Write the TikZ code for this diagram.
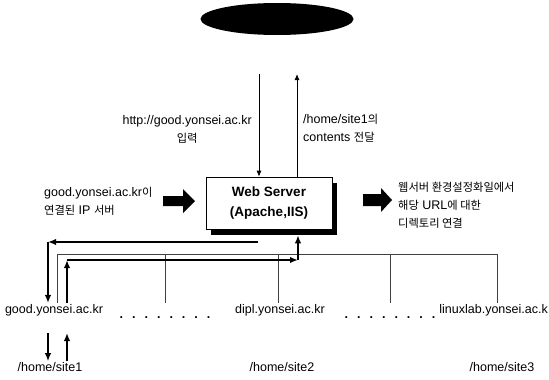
\documentclass[tikz,border=0pt]{standalone}
\usepackage{fontspec}
\setmainfont{Liberation Sans}
\newfontfamily\kr{Noto Sans CJK KR}[Scale=0.9]
\usetikzlibrary{arrows.meta,shapes.geometric,shadows}
\tikzset{
  lbl/.style={inner sep=1pt, font=\fontsize{12.5}{18}\selectfont},
  boxtxt/.style={font=\fontsize{13.5}{20}\selectfont\bfseries},
  dotrow/.style={inner sep=1pt, font=\fontsize{12.5}{18}\selectfont\bfseries},
  thinarr/.style={line width=0.9pt, -{Latex[length=6pt,width=5pt]}},
  thickarr/.style={line width=1.6pt, -{Latex[length=8pt,width=6.5pt]}},
  hair/.style={line width=0.5pt, black!75},
  blockarrow/.style={fill=black}
}
\begin{document}
\begin{tikzpicture}[x=1pt,y=-1pt]
\useasboundingbox (0,0) rectangle (549,380);
% top ellipse
\node[ellipse, fill=black, minimum width=153pt, minimum height=32pt, inner sep=0pt] (cloud) at (277,19) {};
% web server box
\node[draw, fill=white, line width=0.6pt, minimum width=126pt, minimum height=52pt, align=center, boxtxt,
      drop shadow={shadow xshift=5pt, shadow yshift=-6pt, fill=black, opacity=1}] (ws) at (269,203)
      {Web Server\\(Apache,IIS)};
% top arrows
\coordinate (d1) at (259,74);
\coordinate (u1) at (297,74);
\draw[thinarr] (d1) -- (d1 |- ws.north);
\draw[thinarr] (u1 |- ws.north) -- (u1);
% labels
\node[lbl, anchor=east, align=center] (http) at (253,129) {http://good.yonsei.ac.kr\\{\kr 입력}};
\node[lbl, anchor=west, align=left] (cont) at (302,128) {/home/site1{\kr 의}\\contents {\kr 전달}};
\node[lbl, anchor=west, align=left] (goodip) at (43,201) {good.yonsei.ac.kr{\kr 이}\\{\kr 연결된} IP {\kr 서버}};
\node[lbl, anchor=west, align=left] (conf) at (397,205) {{\kr 웹서버 환경설정화일에서}\\{\kr 해당} URL{\kr 에 대한}\\{\kr 디렉토리 연결}};
% block arrows
\fill[blockarrow] (163,196) -- (183,196) -- (183,189) -- (195,201) -- (183,213) -- (183,206) -- (163,206) -- cycle;
\fill[blockarrow] (363,194) -- (381,194) -- (381,188) -- (392,200) -- (381,212) -- (381,206) -- (363,206) -- cycle;
% bottom labels
\node[lbl] (good) at (54,310) {good.yonsei.ac.kr};
\node[dotrow] (dots1) at (165,318) {.\hspace{9pt}.\hspace{9pt}.\hspace{9pt}.\hspace{9pt}.\hspace{9pt}.\hspace{9pt}.\hspace{9pt}.};
\node[lbl] (dipl) at (280,310) {dipl.yonsei.ac.kr};
\node[dotrow] (dots2) at (390,318) {.\hspace{9pt}.\hspace{9pt}.\hspace{9pt}.\hspace{9pt}.\hspace{9pt}.\hspace{9pt}.\hspace{9pt}.};
\node[lbl, anchor=east] (linux) at (549,310) {linuxlab.yonsei.ac.k};
\node[lbl] (s1) at (50,367) {/home/site1};
\node[lbl] (s2) at (282,367) {/home/site2};
\node[lbl] (s3) at (502,367) {/home/site3};
% thin tree
\coordinate (t0) at (57,254);
\coordinate (t5) at (497,254);
\draw[hair] (t0 |- good.north) -- (t0) -- (t5) -- (t5 |- linux.north);
\foreach \xx in {165,278,390} \draw[hair] (\xx,254) -- (\xx,303);
% thick left path (response to client)
\coordinate (L1) at (258,242);
\coordinate (L2) at (48,242);
\draw[thickarr] (L1) -- (L2);
\draw[thickarr] (L2) -- (L2 |- good.north);
% thick right path (request to server)
\coordinate (R1) at (67,260);
\coordinate (R2) at (298,260);
\draw[thickarr] (R1 |- good.north) -- (R1);
\draw[thickarr] (R1) -- (R2);
\draw[thickarr] (R2) -- ([yshift=-6pt]ws.south -| R2);
% small arrows to site1
\coordinate (sa) at (48,333);
\coordinate (sb) at (67,333);
\draw[thickarr] (sa) -- (sa |- s1.north);
\draw[thickarr] (sb |- s1.north) -- (sb);
\end{tikzpicture}
\end{document}
